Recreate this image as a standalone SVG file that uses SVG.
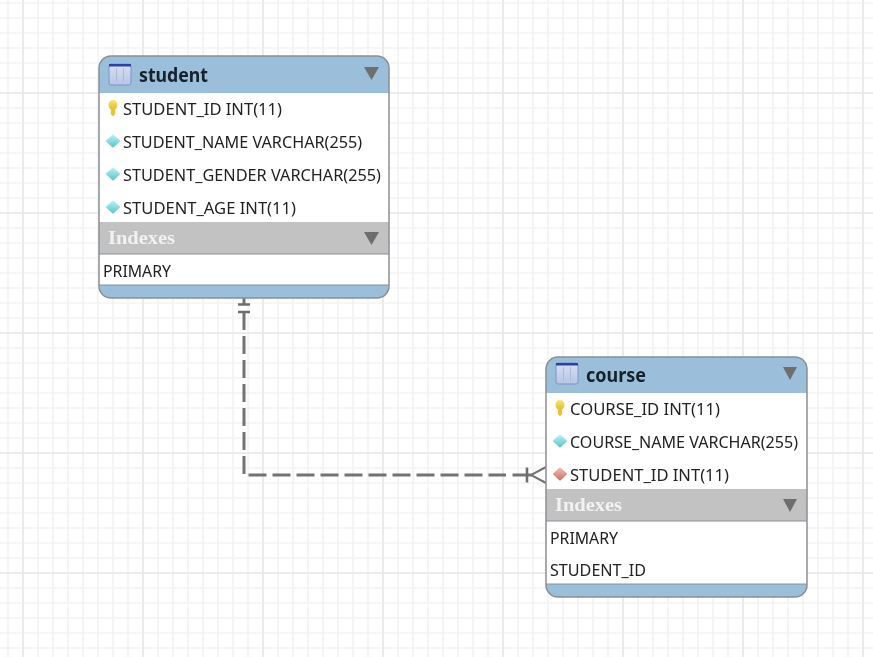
<svg xmlns="http://www.w3.org/2000/svg" width="873" height="657" viewBox="0 0 873 657">
<style>
.t{font-family:"Noto Sans","DejaVu Sans",sans-serif;font-size:15.5px;fill:#222222}
.h{font-family:"Noto Sans","DejaVu Sans",sans-serif;font-size:19px;font-weight:700;fill:#14202c}
.ix{font-family:"Liberation Serif",serif;font-size:18px;font-weight:700;fill:#f2f2f2}
.hd{fill:#9bbfda}
.ih{fill:#c2c2c2}
.fr{fill:none;stroke:#8a8f94;stroke-width:1.5}
.ar{fill:#6e6e6e}
.rel{fill:none;stroke:#737373;stroke-width:3}
.sym{fill:none;stroke:#6e6e6e;stroke-width:2.6}
.ft{stroke:#737373;stroke-width:2;fill:none}
.soft{filter:url(#soft)}
</style>
<defs>
<filter id="soft" x="-5%" y="-5%" width="110%" height="110%"><feGaussianBlur stdDeviation="0.45"/></filter>
<pattern id="minor" x="1" y="-4" width="15" height="15" patternUnits="userSpaceOnUse">
<path d="M7 0V15M0 7H15" fill="none" stroke="#f3f3f3" stroke-width="1.6"/>
</pattern>
<linearGradient id="ke" x1="0" y1="0" x2="0" y2="1"><stop offset="0" stop-color="#f8e46a"/><stop offset="1" stop-color="#e6b93a"/></linearGradient>
<linearGradient id="tb" x1="0" y1="0" x2="0" y2="1"><stop offset="0" stop-color="#d6e0f2"/><stop offset="1" stop-color="#b7c6e6"/></linearGradient>
<g id="tbl"><rect x="0" y="0" width="22" height="21" rx="2" fill="url(#tb)" stroke="#7d92c4"/><rect x="0" y="0" width="22" height="2.500" fill="#2f3fa8"/><path d="M7.500 4V18M14.500 4V18" stroke="#a9bbdc" fill="none"/></g>
<g id="key"><ellipse cx="5" cy="5" rx="4.500" ry="5" fill="url(#ke)"/><path d="M2.800 8H7.200V14L5 16.500L2.800 14Z" fill="#e8c43a"/></g>
<polygon id="dia" points="1,0 7,-5.500 13,0 7,5.500" stroke-width="2" stroke-linejoin="round"/>
<linearGradient id="cy" x1="0" y1="0" x2="0" y2="1"><stop offset="0" stop-color="#b4f0f0"/><stop offset="1" stop-color="#62c6cc"/></linearGradient>
<linearGradient id="rd" x1="0" y1="0" x2="0" y2="1"><stop offset="0" stop-color="#f2b8b0"/><stop offset="1" stop-color="#cf7470"/></linearGradient>
</defs>
<rect width="873" height="657" fill="#ffffff"/>
<g id="grid">
<rect width="873" height="657" fill="url(#minor)"/>
<path d="M23 0V657M143 0V657M263 0V657M383 0V657M503 0V657M623 0V657M743 0V657M863 0V657M0 93H873M0 213H873M0 333H873M0 453H873M0 573H873" fill="none" stroke="#e9e9e9" stroke-width="1.600"/>
</g>
<g id="connectors" class="soft">
<path class="rel" d="M244 298V304.500"/>
<path class="rel" d="M244 312V475" stroke-dasharray="18 6"/>
<path class="rel" d="M248.500 475H506" stroke-dasharray="18 6"/>
<path class="rel" d="M512.500 475H532"/>
<path class="sym" d="M238 304.500H250M238 312H250M527 467.500V482.500"/>
<path class="ft" d="M546 467L531 475L546 483"/>
</g>
<g id="student" class="soft">
<path d="M111 56H377A12 12 0 0 1 389 68V286A12 12 0 0 1 377 298H111A12 12 0 0 1 99 286V68A12 12 0 0 1 111 56Z" fill="#ffffff"/>
<path class="hd" d="M111 56H377A12 12 0 0 1 389 68V93H99V68A12 12 0 0 1 111 56Z"/>
<rect class="ih" x="99" y="222" width="290" height="32"/>
<path class="hd" d="M99 285H389V286A12 12 0 0 1 377 298H111A12 12 0 0 1 99 286Z"/>
<path class="fr" d="M111 56H377A12 12 0 0 1 389 68V286A12 12 0 0 1 377 298H111A12 12 0 0 1 99 286V68A12 12 0 0 1 111 56Z"/>
<path d="M99 254H389M99 285H389" stroke="#8a8f94" fill="none"/>
<use href="#tbl" x="109" y="64"/>
<text class="h" x="139" y="82" textLength="69" lengthAdjust="spacingAndGlyphs">student</text>
<polygon class="ar" points="364,67 379,67 371.500,80"/>
<use href="#key" x="108" y="100"/>
<text class="t" x="123" y="115" textLength="159" lengthAdjust="spacingAndGlyphs">STUDENT_ID INT(11)</text>
<use href="#dia" x="106" y="141" fill="url(#cy)" stroke="url(#cy)"/>
<text class="t" x="123" y="148" textLength="239" lengthAdjust="spacingAndGlyphs">STUDENT_NAME VARCHAR(255)</text>
<use href="#dia" x="106" y="174" fill="url(#cy)" stroke="url(#cy)"/>
<text class="t" x="123" y="181" textLength="258" lengthAdjust="spacingAndGlyphs">STUDENT_GENDER VARCHAR(255)</text>
<use href="#dia" x="106" y="207" fill="url(#cy)" stroke="url(#cy)"/>
<text class="t" x="123" y="214" textLength="173" lengthAdjust="spacingAndGlyphs">STUDENT_AGE INT(11)</text>
<text class="ix" x="108" y="244" textLength="67" lengthAdjust="spacingAndGlyphs">Indexes</text>
<polygon class="ar" points="364,232 379,232 371.500,245"/>
<text class="t" x="103" y="277" textLength="68" lengthAdjust="spacingAndGlyphs">PRIMARY</text>
</g>
<g id="course" class="soft">
<path d="M558 357H795A12 12 0 0 1 807 369V585A12 12 0 0 1 795 597H558A12 12 0 0 1 546 585V369A12 12 0 0 1 558 357Z" fill="#ffffff"/>
<path class="hd" d="M558 357H795A12 12 0 0 1 807 369V393H546V369A12 12 0 0 1 558 357Z"/>
<rect class="ih" x="546" y="489" width="261" height="32"/>
<path class="hd" d="M546 584H807V585A12 12 0 0 1 795 597H558A12 12 0 0 1 546 585Z"/>
<path class="fr" d="M558 357H795A12 12 0 0 1 807 369V585A12 12 0 0 1 795 597H558A12 12 0 0 1 546 585V369A12 12 0 0 1 558 357Z"/>
<path d="M546 521H807M546 584H807" stroke="#8a8f94" fill="none"/>
<use href="#tbl" x="556" y="363"/>
<text class="h" x="586" y="382" textLength="60" lengthAdjust="spacingAndGlyphs">course</text>
<polygon class="ar" points="783,367 797,367 790,380"/>
<use href="#key" x="555" y="400"/>
<text class="t" x="570" y="415" textLength="150" lengthAdjust="spacingAndGlyphs">COURSE_ID INT(11)</text>
<use href="#dia" x="553" y="441" fill="url(#cy)" stroke="url(#cy)"/>
<text class="t" x="570" y="448" textLength="228" lengthAdjust="spacingAndGlyphs">COURSE_NAME VARCHAR(255)</text>
<use href="#dia" x="553" y="474" fill="url(#rd)" stroke="url(#rd)"/>
<text class="t" x="570" y="481" textLength="159" lengthAdjust="spacingAndGlyphs">STUDENT_ID INT(11)</text>
<text class="ix" x="555" y="511" textLength="67" lengthAdjust="spacingAndGlyphs">Indexes</text>
<polygon class="ar" points="783,499 797,499 790,512"/>
<text class="t" x="550" y="544" textLength="68" lengthAdjust="spacingAndGlyphs">PRIMARY</text>
<text class="t" x="550" y="576" textLength="96" lengthAdjust="spacingAndGlyphs">STUDENT_ID</text>
</g>
</svg>
